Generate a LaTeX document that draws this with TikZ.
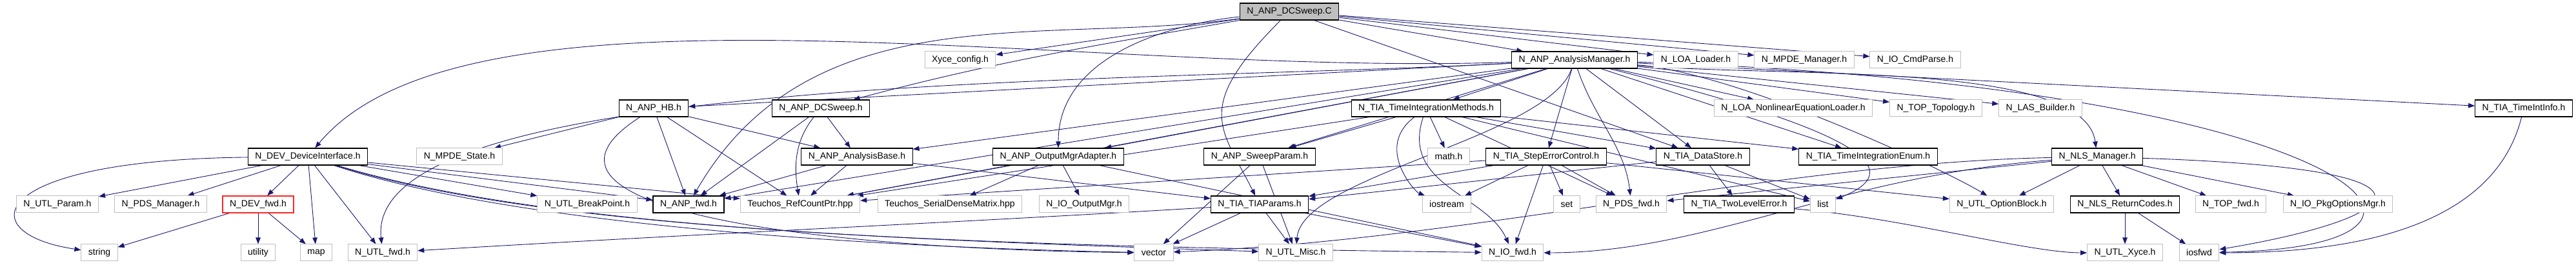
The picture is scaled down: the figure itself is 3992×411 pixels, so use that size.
\documentclass[tikz,border=0pt]{standalone}
\usepackage{fontspec}
\setmainfont{Liberation Sans}
\usepackage{tikz}
\usetikzlibrary{arrows.meta,backgrounds}
\usepackage{xcolor}
\definecolor{edgeblue}{HTML}{191970}

\begin{document}
\begin{tikzpicture}[
    x=1pt, y=1pt,
    box/.style={draw=black, line width=1.1pt, fill=white, minimum height=26pt,
                inner xsep=11pt, inner ysep=0pt,
                font=\fontsize{14}{16}\selectfont},
    ext/.style={box, draw=black!25, line width=1pt},
    root/.style={box, fill=black!25},
    miss/.style={box, draw=red!85},
    inc/.style={draw=edgeblue, line width=0.9pt,
                -{Triangle[length=10pt,width=7.5pt]}}
]
\useasboundingbox (0,0) rectangle (3992,411);

% ============================
% Row 0: the source file
% ============================
\node[root] (dcsC) at (1998,393) {N\_ANP\_DCSweep.C};

% ============================
% Row 1
% ============================
\node[ext] (xcfg)      at (1488,318) {Xyce\_config.h};
\node[box] (anaMgr)    at (2440,318) {N\_ANP\_AnalysisManager.h};
\node[ext] (loaLoader) at (2628,318) {N\_LOA\_Loader.h};
\node[ext] (mpdeMgr)   at (2796,318) {N\_MPDE\_Manager.h};
\node[ext] (cmdParse)  at (2968,318) {N\_IO\_CmdParse.h};

% ============================
% Row 2
% ============================
\node[box] (hb)          at (1013,243) {N\_ANP\_HB.h};
\node[box] (dcsH)        at (1272,243) {N\_ANP\_DCSweep.h};
\node[box] (timeInt)     at (2210,243) {N\_TIA\_TimeIntegrationMethods.h};
\node[ext] (nleLoader)   at (2779,243) {N\_LOA\_NonlinearEquationLoader.h};
\node[ext] (topo)        at (3000,243) {N\_TOP\_Topology.h};
\node[ext] (lasBuilder)  at (3162,243) {N\_LAS\_Builder.h};
\node[box] (timeIntInfo) at (3911,243) {N\_TIA\_TimeIntInfo.h};

% ============================
% Row 3
% ============================
\node[box] (devIf)      at (477,168)  {N\_DEV\_DeviceInterface.h};
\node[ext] (mpdeState)  at (712,168)  {N\_MPDE\_State.h};
\node[box] (anaBase)    at (1328,168) {N\_ANP\_AnalysisBase.h};
\node[box] (outAdp)     at (1640,168) {N\_ANP\_OutputMgrAdapter.h};
\node[box] (sweepParam) at (1952,168) {N\_ANP\_SweepParam.h};
\node[ext] (mathH)      at (2245,168) {math.h};
\node[box] (stepErr)    at (2396,168) {N\_TIA\_StepErrorControl.h};
\node[box] (dataStore)  at (2639,168) {N\_TIA\_DataStore.h};
\node[box] (tiEnum)     at (2895,168) {N\_TIA\_TimeIntegrationEnum.h};
\node[box] (nlsMgr)     at (3250,168) {N\_NLS\_Manager.h};

% ============================
% Row 4
% ============================
\node[ext]  (utlParam)  at (89,94)   {N\_UTL\_Param.h};
\node[ext]  (pdsMgr)    at (249,94)  {N\_PDS\_Manager.h};
\node[miss] (devFwd)    at (400,94)  {N\_DEV\_fwd.h};
\node[ext]  (bkPt)      at (910,94)  {N\_UTL\_BreakPoint.h};
\node[box]  (anpFwd)    at (1067,94) {N\_ANP\_fwd.h};
\node[ext]  (refCnt)    at (1240,94) {Teuchos\_RefCountPtr.hpp};
\node[ext]  (sdm)       at (1472,94) {Teuchos\_SerialDenseMatrix.hpp};
\node[ext]  (outMgr)    at (1680,94) {N\_IO\_OutputMgr.h};
\node[box]  (tiaParams) at (1952,94) {N\_TIA\_TIAParams.h};
\node[ext]  (ioStream)  at (2242,94) {iostream};
\node[ext]  (setH)      at (2428,94) {set};
\node[ext]  (pdsFwd)    at (2528,94) {N\_PDS\_fwd.h};
\node[box]  (twoLvl)    at (2695,94) {N\_TIA\_TwoLevelError.h};
\node[ext]  (listH)     at (2825,94) {list};
\node[ext]  (optBlk)    at (3102,94) {N\_UTL\_OptionBlock.h};
\node[box]  (retCodes)  at (3293,94) {N\_NLS\_ReturnCodes.h};
\node[ext]  (topFwd)    at (3457,94) {N\_TOP\_fwd.h};
\node[ext]  (pkgOpt)    at (3623,94) {N\_IO\_PkgOptionsMgr.h};

% ============================
% Row 5
% ============================
\node[ext] (stringH) at (154,19)  {string};
\node[ext] (utilH)   at (400,19)  {utility};
\node[ext] (mapH)    at (490,19)  {map};
\node[ext] (utlFwd)  at (593,19)  {N\_UTL\_fwd.h};
\node[ext] (vecH)    at (1788,19) {vector};
\node[ext] (utlMisc) at (2008,19) {N\_UTL\_Misc.h};
\node[ext] (ioFwd)   at (2344,19) {N\_IO\_fwd.h};
\node[ext] (utlXyce) at (3293,19) {N\_UTL\_Xyce.h};
\node[ext] (iosfwdH) at (3408,19) {iosfwd};

% ============================
% Include edges
% ============================
\begin{scope}[on background layer]
    % N_ANP_DCSweep.C
    \foreach \t in {xcfg,anaMgr,loaLoader,mpdeMgr,cmdParse,dataStore}
        \draw[inc] (dcsC) -- (\t);
    \draw[inc] (dcsC) .. controls +(-285,-50) and +(280,75) .. (dcsH);
    \draw[inc] (dcsC) .. controls +(-376,-53) and +(190,330) .. (anpFwd);
    \draw[inc] (dcsC) .. controls +(-164,-17) and +(0,165) .. (outAdp);
    \draw[inc] (dcsC) .. controls +(-150,-150) and +(-60,120) .. (tiaParams);
    % N_ANP_AnalysisManager.h
    \foreach \t in {hb,timeInt,stepErr,dataStore,nleLoader,topo,lasBuilder,
                    timeIntInfo,tiEnum,anaBase,outAdp,sweepParam,refCnt,anpFwd}
        \draw[inc] (anaMgr) -- (\t);
    \draw[inc] (anaMgr) .. controls +(-770,-27) and +(250,300) .. (devIf);
    \draw[inc] (anaMgr) .. controls +(-700,-37) and +(-30,280) .. (utlFwd);
    \draw[inc] (anaMgr) .. controls +(320,-28) and +(-20,150) .. (nlsMgr);
    \draw[inc] (anaMgr) .. controls +(30,-90) and +(-10,90) .. (pdsFwd);
    \draw[inc] (anaMgr) .. controls +(400,-100) and +(150,60) .. (listH);
    \draw[inc] (anaMgr) .. controls +(250,-20) and +(-100,60) .. (optBlk);
    \draw[inc] (anaMgr) .. controls +(-40,-120) and +(10,120) .. (utlMisc);
    \draw[inc] (anaMgr) .. controls +(1200,-40) and +(500,10) .. (iosfwdH);
    % N_DEV_DeviceInterface.h
    \foreach \t in {utlParam,pdsMgr,devFwd,mapH,utlFwd,bkPt,anpFwd,refCnt}
        \draw[inc] (devIf) -- (\t);
    \draw[inc] (devIf) .. controls +(-500,-5) and +(-200,30) .. (stringH);
    \draw[inc] (devIf) .. controls +(300,-100) and +(-500,10) .. (vecH);
    \draw[inc] (devIf) .. controls +(350,-110) and +(-600,20) .. (utlMisc);
    \draw[inc] (devIf) .. controls +(400,-120) and +(-800,10) .. (ioFwd);
    % N_DEV_fwd.h
    \foreach \t in {stringH,utilH,mapH}
        \draw[inc] (devFwd) -- (\t);
    % N_ANP_HB.h
    \foreach \t in {mpdeState,anpFwd,anaBase,refCnt}
        \draw[inc] (hb) -- (\t);
    \draw[inc] (hb) .. controls +(-250,-160) and +(-500,5) .. (vecH);
    % N_ANP_DCSweep.h
    \foreach \t in {anaBase,anpFwd}
        \draw[inc] (dcsH) -- (\t);
    \draw[inc] (dcsH) .. controls +(-40,-50) and +(-10,60) .. (refCnt);
    % N_ANP_AnalysisBase.h
    \foreach \t in {anpFwd,refCnt,tiaParams}
        \draw[inc] (anaBase) -- (\t);
    % N_ANP_OutputMgrAdapter.h
    \foreach \t in {outMgr,sdm,refCnt,ioFwd}
        \draw[inc] (outAdp) -- (\t);
    % N_ANP_SweepParam.h
    \foreach \t in {vecH,utlMisc}
        \draw[inc] (sweepParam) -- (\t);
    % N_TIA_TIAParams.h
    \foreach \t in {vecH,utlMisc,ioFwd}
        \draw[inc] (tiaParams) -- (\t);
    \draw[inc] (tiaParams) .. controls +(-500,-30) and +(500,30) .. (utlFwd);
    % N_TIA_TimeIntegrationMethods.h
    \foreach \t in {mathH,dataStore,tiEnum,listH,pdsFwd,refCnt,sweepParam}
        \draw[inc] (timeInt) -- (\t);
    \draw[inc] (timeInt) .. controls +(-80,-60) and +(-50,20) .. (ioStream);
    \draw[inc] (timeInt) .. controls +(-40,-120) and +(-40,90) .. (ioFwd);
    % N_TIA_StepErrorControl.h
    \foreach \t in {ioStream,setH,pdsFwd,ioFwd,tiaParams,refCnt,optBlk}
        \draw[inc] (stepErr) -- (\t);
    % N_TIA_DataStore.h
    \foreach \t in {twoLvl,listH,tiaParams}
        \draw[inc] (dataStore) -- (\t);
    \draw[inc] (twoLvl) .. controls +(250,-20) and +(-150,0) .. (utlXyce);
    % N_NLS_Manager.h
    \foreach \t in {optBlk,retCodes,topFwd,pkgOpt,pdsFwd}
        \draw[inc] (nlsMgr) -- (\t);
    \draw[inc] (nlsMgr) .. controls +(-500,-10) and +(500,20) .. (vecH);
    \draw[inc] (nlsMgr) .. controls +(-400,-30) and +(300,0) .. (ioFwd);
    \draw[inc] (nlsMgr) .. controls +(600,-20) and +(300,50) .. (iosfwdH);
    % N_NLS_ReturnCodes.h
    \foreach \t in {utlXyce,iosfwdH}
        \draw[inc] (retCodes) -- (\t);
    % N_TIA_TimeIntInfo.h
    \draw[inc] (timeIntInfo) .. controls +(-50,-200) and +(200,0) .. (iosfwdH);
\end{scope}

\end{tikzpicture}
\end{document}
